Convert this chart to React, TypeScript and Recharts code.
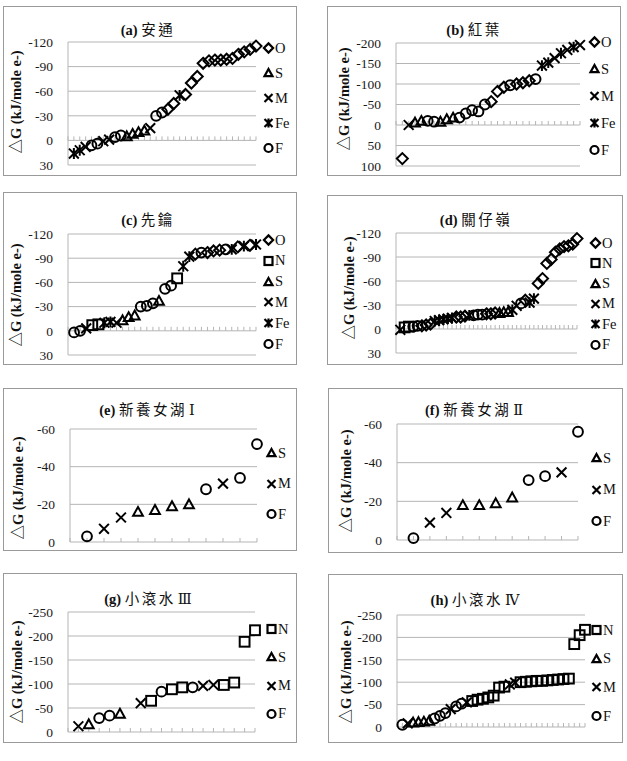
import { ScatterChart, Scatter, XAxis, YAxis, CartesianGrid } from 'recharts';

const SERIF = '"Liberation Serif", "Times New Roman", "Noto Sans CJK TC", serif';
const CJK = '"Noto Sans CJK TC", "Noto Sans CJK SC", sans-serif';
const GRID = '#b5b5b5';

// series: O, N, S, M, Fe, F ; values are ΔG in kJ/mole e-
const aKinds = ['Fe', 'Fe', 'M', 'F', 'F', 'M', 'M', 'F', 'F', 'S', 'S', 'S', 'S', 'M', 'F', 'F', 'O', 'O', 'Fe', 'O', 'O', 'O', 'O', 'O', 'O', 'O', 'O', 'O', 'O', 'O', 'O', 'O'];
const aDG = [16, 12, 8, 6, 4, 1, -1, -4, -6, -5, -8, -10, -12, -15, -30, -34, -38, -45, -55, -56, -70, -78, -94, -97, -98, -98, -99, -100, -105, -108, -111, -115];

const bKinds = ['O', 'M', 'S', 'S', 'F', 'F', 'S', 'S', 'S', 'F', 'F', 'F', 'F', 'F', 'O', 'O', 'O', 'F', 'O', 'O', 'O', 'F', 'Fe', 'Fe', 'M', 'Fe', 'M', 'Fe', 'M'];
const bDG = [82, 0, -6, -10, -10, -8, -8, -14, -18, -18, -28, -36, -33, -50, -57, -82, -92, -97, -100, -103, -108, -112, -145, -152, -163, -175, -183, -190, -195];

const cKinds = ['F', 'F', 'M', 'N', 'N', 'Fe', 'Fe', 'M', 'S', 'S', 'S', 'F', 'F', 'F', 'S', 'F', 'F', 'N', 'Fe', 'Fe', 'O', 'F', 'O', 'O', 'O', 'F', 'Fe', 'O', 'Fe', 'O', 'Fe'];
const cDG = [2, 0, -3, -7, -8, -10, -11, -10, -13, -17, -19, -30, -31, -34, -37, -52, -56, -65, -80, -92, -95, -97, -97, -99, -100, -101, -101, -104, -105, -106, -107];

const dKinds = ['M', 'N', 'N', 'F', 'F', 'O', 'O', 'O', 'Fe', 'Fe', 'Fe', 'Fe', 'Fe', 'O', 'O', 'O', 'Fe', 'F', 'F', 'F', 'O', 'O', 'O', 'S', 'S', 'S', 'Fe', 'M', 'F', 'O', 'Fe', 'Fe', 'O', 'O', 'O', 'O', 'O', 'O', 'O', 'O', 'O', 'O'];
const dDG = [1, -2, -3, -3, -4, -4, -5, -6, -10, -11, -12, -13, -14, -15, -15, -16, -17, -17, -18, -18, -19, -19, -20, -20, -21, -21, -24, -29, -32, -36, -33, -38, -57, -63, -82, -87, -96, -100, -103, -104, -106, -113];

const eKinds = ['F', 'M', 'M', 'S', 'S', 'S', 'S', 'F', 'M', 'F', 'F'];
const eDG = [-3, -7, -13, -16, -17, -19, -20, -28, -31, -34, -52];

const fKinds = ['F', 'M', 'M', 'S', 'S', 'S', 'S', 'F', 'F', 'M', 'F'];
const fDG = [-1, -9, -14, -18, -18, -19, -22, -31, -33, -35, -56];

const gKinds = ['M', 'S', 'F', 'F', 'S', '', 'M', 'N', 'F', 'N', 'N', 'F', 'M', 'M', 'N', 'N', 'N', 'N'];
const gDG = [-12, -16, -29, -34, -38, null, -60, -65, -84, -89, -93, -93, -96, -98, -98, -103, -188, -212];

const hKinds = ['F', 'M', 'S', 'S', 'S', 'S', 'F', 'F', 'F', 'M', 'F', 'F', 'M', 'N', 'N', 'N', 'N', 'N', 'N', 'N', 'M', 'M', 'N', 'N', 'N', 'N', 'N', 'N', 'N', 'N', 'N', 'N', 'N', 'N', 'N'];
const hDG = [-5, -8, -10, -11, -12, -14, -19, -25, -31, -40, -46, -52, -55, -58, -61, -63, -66, -70, -88, -90, -95, -99, -100, -101, -102, -103, -103, -104, -105, -106, -107, -108, -185, -205, -217];

const ticks120 = [-120, -90, -60, -30, 0, 30];
const ticks200 = [-200, -150, -100, -50, 0, 50, 100];
const ticks60 = [-60, -40, -20, 0];
const ticks250 = [-250, -200, -150, -100, -50, 0];

const legend5 = ['O', 'S', 'M', 'Fe', 'F'];
const legend6 = ['O', 'N', 'S', 'M', 'Fe', 'F'];
const legend3 = ['S', 'M', 'F'];
const legend4 = ['N', 'S', 'M', 'F'];

type PanelCfg = {
  tag: string;
  name: string;
  num?: string;
  kinds: string[];
  values: (number | null)[];
  ticks: number[];
  legend: string[];
  box: number[];
  plot: number[];
  titleX: number;
  titleY: number;
  label: number[];
  legX: number;
  legY: number;
  legStep: number;
};

const panels: PanelCfg[] = [
  { tag: '(a)', name: '安通', kinds: aKinds, values: aDG, ticks: ticks120, legend: legend5,
    box: [3, 6, 297, 176], plot: [68, 42, 256, 165], titleX: 148, titleY: 28, label: [14, 102], legX: 268, legY: 48, legStep: 25 },
  { tag: '(b)', name: '紅葉', kinds: bKinds, values: bDG, ticks: ticks200, legend: legend5,
    box: [327, 6, 621, 176], plot: [396, 43, 580, 166], titleX: 474, titleY: 28, label: [342, 99], legX: 594, legY: 42, legStep: 27 },
  { tag: '(c)', name: '先鑰', kinds: cKinds, values: cDG, ticks: ticks120, legend: legend6,
    box: [3, 192, 297, 365], plot: [68, 234, 256, 355], titleX: 148, titleY: 218, label: [14, 295], legX: 268, legY: 240, legStep: 20.8 },
  { tag: '(d)', name: '關仔嶺', kinds: dKinds, values: dDG, ticks: ticks120, legend: legend6,
    box: [327, 195, 623, 365], plot: [396, 233, 577, 353], titleX: 476, titleY: 218, label: [347, 288], legX: 595, legY: 243, legStep: 20.3 },
  { tag: '(e)', name: '新養女湖', num: 'Ⅰ', kinds: eKinds, values: eDG, ticks: ticks60, legend: legend3,
    box: [3, 388, 297, 551], plot: [70, 429, 257, 542], titleX: 147, titleY: 408, label: [16, 488], legX: 271, legY: 453, legStep: 30.5 },
  { tag: '(f)', name: '新養女湖', num: 'Ⅱ', kinds: fKinds, values: fDG, ticks: ticks60, legend: legend3,
    box: [328, 388, 623, 553], plot: [397, 424, 578, 540], titleX: 474, titleY: 408, label: [344, 481], legX: 596, legY: 458, legStep: 31.5 },
  { tag: '(g)', name: '小滾水', num: 'Ⅲ', kinds: gKinds, values: gDG, ticks: ticks250, legend: legend4,
    box: [3, 573, 297, 743], plot: [68, 612, 255, 732], titleX: 148, titleY: 597, label: [15, 672], legX: 271, legY: 629, legStep: 28.3 },
  { tag: '(h)', name: '小滾水', num: 'Ⅳ', kinds: hKinds, values: hDG, ticks: ticks250, legend: legend4,
    box: [328, 574, 623, 743], plot: [397, 615, 585, 727], titleX: 475, titleY: 598, label: [344, 672], legX: 596, legY: 630, legStep: 28.7 },
];

function Mark({ kind, cx, cy, r = 4.9, sw = 2 }: { kind: string; cx: number; cy: number; r?: number; sw?: number }) {
  const p = { fill: 'none', stroke: '#000', strokeWidth: sw };
  switch (kind) {
    case 'O': {
      const d = r + 0.6;
      return <polygon points={`${cx},${cy - d} ${cx + d},${cy} ${cx},${cy + d} ${cx - d},${cy}`} {...p} />;
    }
    case 'N':
      return <rect x={cx - r} y={cy - r} width={2 * r} height={2 * r} {...p} />;
    case 'S':
      return <polygon points={`${cx},${cy - r} ${cx + r},${cy + r * 0.8} ${cx - r},${cy + r * 0.8}`} {...p} />;
    case 'M':
      return <path d={`M${cx - r},${cy - r}L${cx + r},${cy + r}M${cx - r},${cy + r}L${cx + r},${cy - r}`} {...p} />;
    case 'Fe':
      return (
        <path
          d={`M${cx - r},${cy - r}L${cx + r},${cy + r}M${cx - r},${cy + r}L${cx + r},${cy - r}M${cx},${cy - r - 0.5}L${cx},${cy + r + 0.5}`}
          {...p}
        />
      );
    default:
      return <circle cx={cx} cy={cy} r={r} {...p} />;
  }
}

function Panel({ cfg }: { cfg: PanelCfg }) {
  const [bl, bt, br, bb] = cfg.box;
  const [pl, pt, pr, pb] = cfg.plot;
  const n = cfg.kinds.length;
  const yw = 40;
  const series = cfg.legend.map((k) => ({
    k,
    data: cfg.kinds
      .map((kk, i) => ({ x: i + 1, y: cfg.values[i], kk }))
      .filter((d) => d.kk === k && d.y != null),
  }));
  const axisTicks = Array.from({ length: n + 1 }, (_, i) => ({ x: i, y: 0 }));

  return (
    <>
      <div
        style={{
          position: 'absolute', left: bl, top: bt, width: br - bl, height: bb - bt,
          border: '1px solid #9a9a9a', boxSizing: 'border-box', background: '#fff',
        }}
      />
      <div style={{ position: 'absolute', left: bl, top: bt }}>
        <ScatterChart
          width={br - bl}
          height={bb - bt}
          margin={{ top: pt - bt, bottom: bb - pb, left: pl - bl - yw, right: br - pr }}
        >
          <CartesianGrid vertical={false} stroke={GRID} strokeWidth={1} />
          <XAxis type="number" dataKey="x" domain={[0, n]} hide />
          <YAxis
            type="number"
            dataKey="y"
            width={yw}
            reversed
            domain={[cfg.ticks[0], cfg.ticks[cfg.ticks.length - 1]]}
            ticks={cfg.ticks}
            interval={0}
            tickLine={false}
            tickSize={0}
            tickMargin={15}
            axisLine={{ stroke: GRID }}
            tick={{ fill: '#1a1a1a', fontSize: 13.5, fontFamily: SERIF }}
          />
          <Scatter
            data={axisTicks}
            isAnimationActive={false}
            shape={(p: any) => <line x1={p.cx} y1={p.cy} x2={p.cx} y2={p.cy - 4} stroke={GRID} strokeWidth={1} />}
          />
          {series.map((s) => (
            <Scatter
              key={s.k}
              name={s.k}
              data={s.data}
              isAnimationActive={false}
              shape={(p: any) => <Mark kind={s.k} cx={p.cx} cy={p.cy} />}
            />
          ))}
        </ScatterChart>
      </div>
      <div
        style={{
          position: 'absolute', left: cfg.titleX, top: cfg.titleY, transform: 'translate(-50%, -50%)',
          whiteSpace: 'nowrap', fontFamily: SERIF, fontSize: 14.5, fontWeight: 700, color: '#111',
        }}
      >
        {cfg.tag}{' '}
        <span style={{ fontFamily: CJK, fontWeight: 400, letterSpacing: 2.5 }}>{cfg.name}</span>
        {cfg.num ? <span style={{ fontFamily: '"DejaVu Serif", serif', fontWeight: 400, marginLeft: 2 }}>{cfg.num}</span> : null}
      </div>
      <div
        style={{
          position: 'absolute', left: cfg.label[0], top: cfg.label[1], transform: 'translate(-50%, -50%) rotate(-90deg)',
          whiteSpace: 'nowrap', fontFamily: SERIF, fontSize: 14.5, fontWeight: 700, color: '#111',
        }}
      >
        △G (kJ/mole e-)
      </div>
      {cfg.legend.map((k, i) => (
        <div
          key={k}
          style={{
            position: 'absolute', left: cfg.legX - 6, top: cfg.legY + i * cfg.legStep - 9, height: 18,
            display: 'flex', alignItems: 'center', fontFamily: SERIF, fontSize: 14.5, color: '#111',
          }}
        >
          <svg width={13} height={14} style={{ marginRight: 0 }}>
            <Mark kind={k} cx={6.5} cy={7} r={4} sw={2.2} />
          </svg>
          {k}
        </div>
      ))}
    </>
  );
}

export default function App() {
  return (
    <div style={{ position: 'absolute', left: 0, top: 0, width: 627, height: 761, background: '#fff' }}>
      {panels.map((p) => (
        <Panel key={p.tag} cfg={p} />
      ))}
    </div>
  );
}
